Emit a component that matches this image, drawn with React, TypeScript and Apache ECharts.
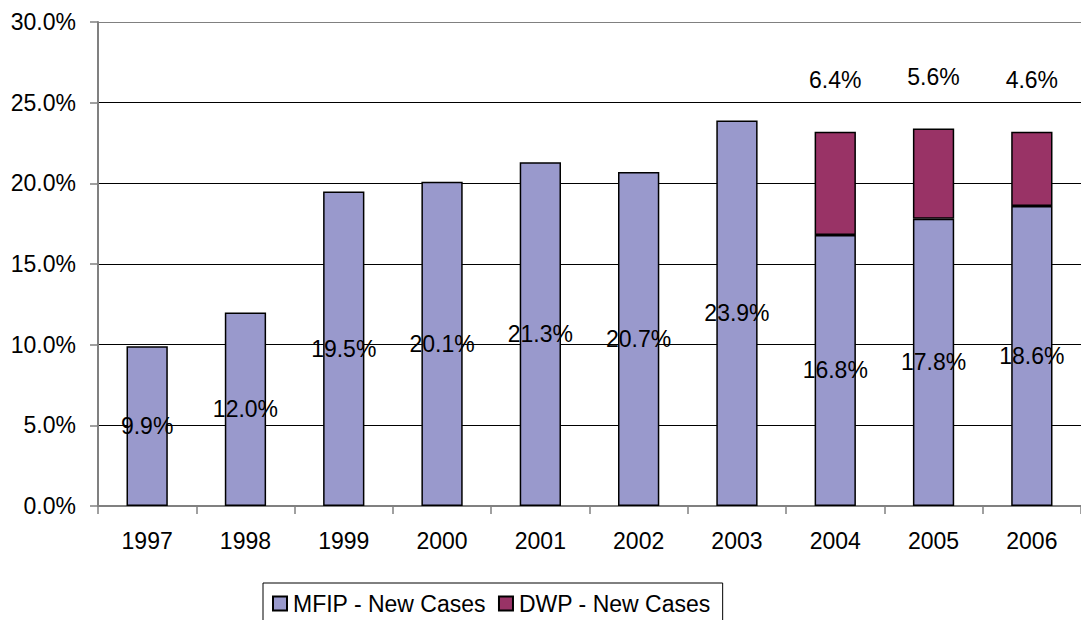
import React, { useEffect, useRef } from "react";
import * as echarts from "echarts";

const years = ["1997", "1998", "1999", "2000", "2001", "2002", "2003", "2004", "2005", "2006"];
const mfipValues = [9.9, 12.0, 19.5, 20.1, 21.3, 20.7, 23.9, 16.8, 17.8, 18.6];
const dwpValues: (number | null)[] = [null, null, null, null, null, null, null, 6.4, 5.6, 4.6];
const seriesNames = ["MFIP - New Cases", "DWP - New Cases"];
const yTicks = { min: 0, max: 30, interval: 5 };

const FONT = "'Liberation Sans', Arial, sans-serif";
const FS = 23;

export default function App() {
  const ref = useRef<HTMLDivElement>(null);
  useEffect(() => {
    document.body.style.margin = "0";
    if (!ref.current) return;
    const chart = echarts.init(ref.current, undefined, { renderer: "svg" });
    const pct = (v: number) => v.toFixed(1) + "%";
    chart.setOption({
      animation: false,
      textStyle: { fontFamily: FONT },
      grid: { left: 98, right: -7, top: 22, bottom: 114, containLabel: false },
      legend: {
        left: 263,
        top: 583,
        orient: "horizontal",
        data: seriesNames.map((n) => ({ name: n, icon: "rect" })),
        itemWidth: 14,
        itemHeight: 14,
        itemGap: 12,
        padding: [9, 12, 30, 9],
        borderColor: "#000",
        borderWidth: 1,
        textStyle: { fontFamily: FONT, fontSize: FS, color: "#000", padding: [0, 0, 0, 1] },
      },
      xAxis: {
        type: "category",
        data: years,
        axisLine: { lineStyle: { color: "#808080", width: 2 } },
        axisTick: { show: true, length: 8, lineStyle: { color: "#808080", width: 1.5 } },
        axisLabel: { fontFamily: FONT, fontSize: FS, color: "#000", margin: 23 },
      },
      yAxis: {
        type: "value",
        min: yTicks.min,
        max: yTicks.max,
        interval: yTicks.interval,
        axisLine: { show: true, lineStyle: { color: "#808080", width: 2 } },
        axisTick: { show: true, length: 8, lineStyle: { color: "#808080", width: 1.5 } },
        axisLabel: {
          fontFamily: FONT,
          fontSize: FS,
          color: "#000",
          margin: 22,
          formatter: (v: number) => v.toFixed(1) + "%",
        },
        splitLine: {
          show: true,
          lineStyle: {
            color: ["#808080", "#000", "#000", "#000", "#000", "#000", "#808080"],
            width: 1,
          },
        },
      },
      series: [
        {
          name: seriesNames[0],
          type: "bar",
          stack: "total",
          data: mfipValues,
          barWidth: "42%",
          itemStyle: { color: "#9999CC", borderColor: "#000", borderWidth: 1.5 },
          label: {
            show: true,
            position: "inside",
            fontFamily: FONT,
            fontSize: FS,
            color: "#000",
            formatter: (p: any) => pct(p.value),
          },
        },
        {
          name: seriesNames[1],
          type: "bar",
          stack: "total",
          data: dwpValues,
          barWidth: "42%",
          itemStyle: { color: "#993366", borderColor: "#000", borderWidth: 1.5 },
          label: {
            show: true,
            position: "top",
            distance: 40,
            fontFamily: FONT,
            fontSize: FS,
            color: "#000",
            formatter: (p: any) => (p.value == null ? "" : pct(p.value)),
          },
        },
      ],
    });
    return () => chart.dispose();
  }, []);
  return <div ref={ref} style={{ width: 1081, height: 620 }} />;
}
